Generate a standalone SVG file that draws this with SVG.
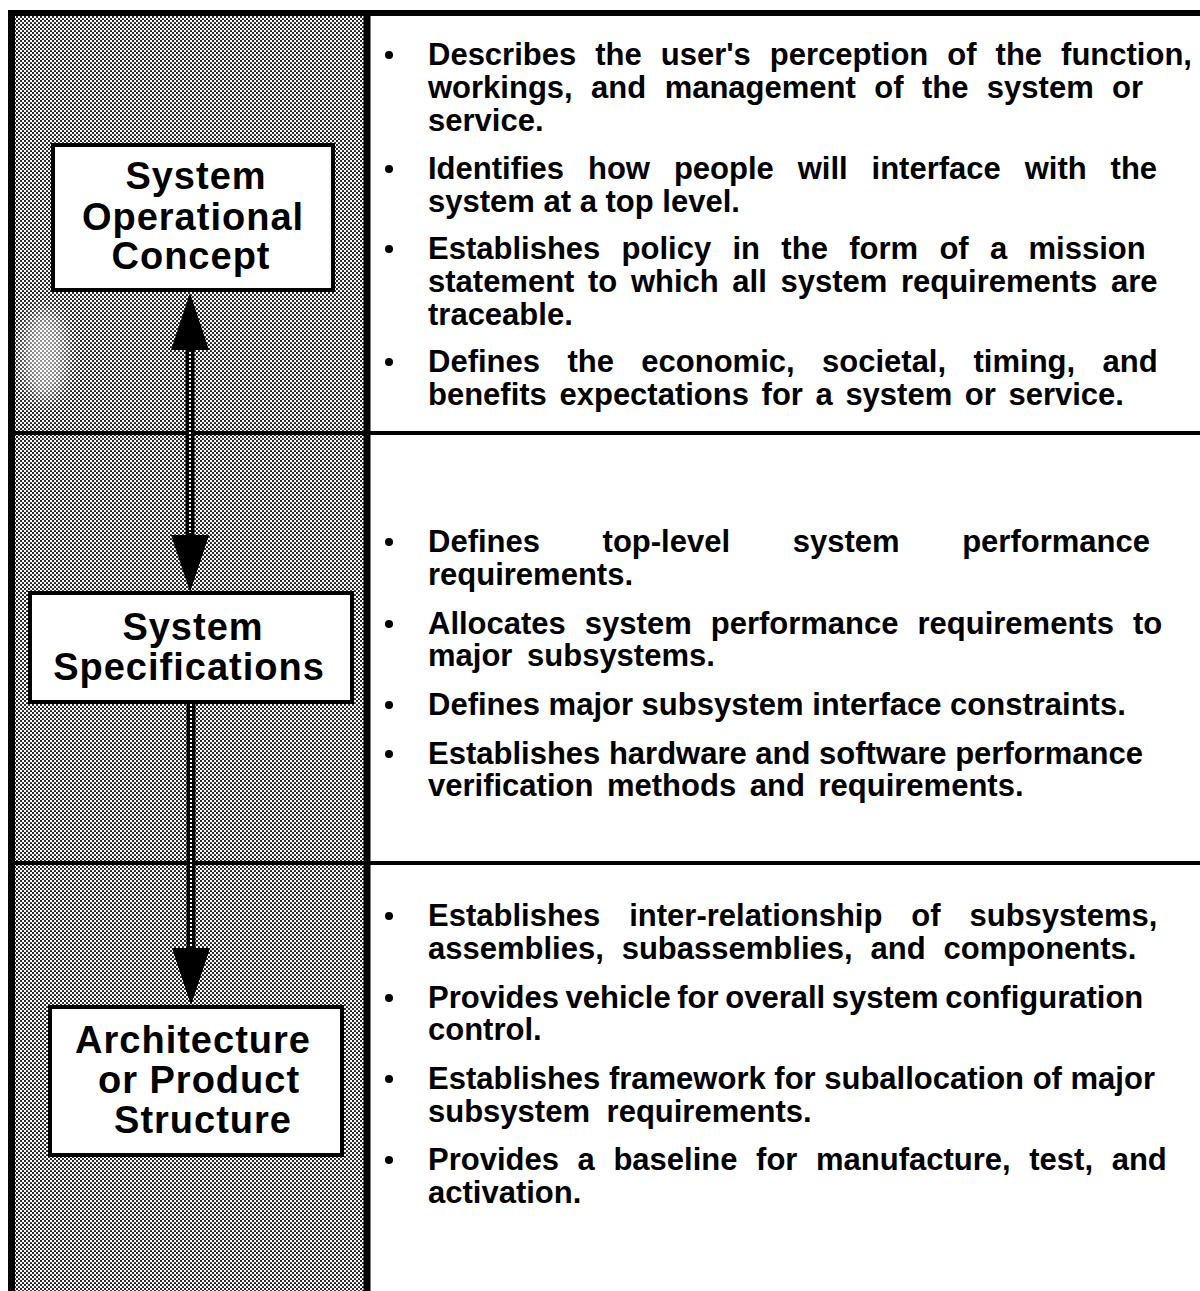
<svg xmlns="http://www.w3.org/2000/svg" width="1200" height="1291" viewBox="0 0 1200 1291">
  <defs>
    <!-- halftone screen used for the left column -->
    <pattern id="screen" width="4" height="4" patternUnits="userSpaceOnUse">
      <rect width="4" height="4" fill="#ffffff"/>
      <circle cx="1" cy="1" r="1.1" fill="#111"/>
      <circle cx="3" cy="3" r="1.1" fill="#111"/>
    </pattern>
    <filter id="soft" x="-50%" y="-50%" width="200%" height="200%">
      <feGaussianBlur stdDeviation="8"/>
    </filter>
    <marker id="head" viewBox="0 0 57 38" markerWidth="57" markerHeight="38" refX="0" refY="19" orient="auto-start-reverse" markerUnits="userSpaceOnUse">
      <path d="M0,0 L57,19 L0,38 Z" fill="#000"/>
    </marker>
    <style>
      .rule { stroke: #000; fill: none; }
      .box { fill: #fff; stroke: #000; stroke-width: 4; }
      .label { font-family: "Liberation Sans", Arial, Helvetica, sans-serif; font-weight: bold; font-size: 38px; letter-spacing: 1px; fill: #000; text-anchor: middle; }
      .item { font-family: "Liberation Sans", Arial, Helvetica, sans-serif; font-weight: bold; font-size: 31px; fill: #000; }
      .dot { fill: #000; }
      .shaft { stroke: #000; stroke-width: 9; fill: none; }
      .core { stroke: #fff; stroke-width: 2; stroke-dasharray: 2 2; fill: none; }
    </style>
  </defs>

  <rect width="1200" height="1291" fill="#fff"/>

  <!-- shaded left column -->
  <rect x="15" y="16" width="349" height="1275" fill="url(#screen)"/>
  <ellipse cx="45" cy="355" rx="22" ry="45" fill="#fff" opacity="0.5" filter="url(#soft)"/>

  <!-- frame and row rules -->
  <g id="frame">
    <line class="rule" x1="11.5" y1="10" x2="11.5" y2="1291" stroke-width="7"/>
    <line class="rule" x1="8" y1="13" x2="1200" y2="13" stroke-width="6"/>
    <line class="rule" x1="367" y1="10" x2="367" y2="1291" stroke-width="7"/>
    <line class="rule" x1="8" y1="433" x2="1200" y2="433" stroke-width="4"/>
    <line class="rule" x1="8" y1="863" x2="1200" y2="863" stroke-width="4"/>
  </g>

  <!-- connectors between the three stages -->
  <g id="connectors">
    <path class="shaft" d="M190,350 L190,535" marker-start="url(#head)" marker-end="url(#head)"/>
    <path class="core" d="M190,352 L190,533"/>
    <path class="shaft" d="M191,702 L191,948" marker-end="url(#head)"/>
    <path class="core" d="M191,704 L191,946"/>
  </g>

  <!-- stage boxes -->
  <g id="node-operational-concept">
    <rect class="box" x="53" y="145" width="280" height="145"/>
    <text class="label" x="196" y="189">System</text>
    <text class="label" x="193" y="230">Operational</text>
    <text class="label" x="191" y="269">Concept</text>
  </g>

  <g id="node-specifications">
    <rect class="box" x="30" y="593" width="322" height="109"/>
    <text class="label" x="193" y="640">System</text>
    <text class="label" x="189" y="680">Specifications</text>
  </g>

  <g id="node-architecture">
    <rect class="box" x="50" y="1007" width="292" height="148"/>
    <text class="label" x="193" y="1053">Architecture</text>
    <text class="label" x="199" y="1093">or Product</text>
    <text class="label" x="203" y="1133">Structure</text>
  </g>

  <!-- descriptions: operational concept -->
  <g id="desc-operational-concept">
    <circle class="dot" cx="389" cy="55" r="4"/>
    <text class="item" x="428" y="65" word-spacing="10.4">Describes the user's perception of the function,</text>
    <text class="item" x="428" y="98" word-spacing="9.8">workings, and management of the system or</text>
    <text class="item" x="428" y="131">service.</text>
    <circle class="dot" cx="389" cy="169" r="4"/>
    <text class="item" x="428" y="179" word-spacing="15.3">Identifies how people will interface with the</text>
    <text class="item" x="428" y="212">system at a top level.</text>
    <circle class="dot" cx="389" cy="249" r="4"/>
    <text class="item" x="428" y="259" word-spacing="12.7">Establishes policy in the form of a mission</text>
    <text class="item" x="428" y="292" word-spacing="5">statement to which all system requirements are</text>
    <text class="item" x="428" y="325">traceable.</text>
    <circle class="dot" cx="389" cy="362" r="4"/>
    <text class="item" x="428" y="372" word-spacing="18.8">Defines the economic, societal, timing, and</text>
    <text class="item" x="428" y="405" word-spacing="4">benefits expectations for a system or service.</text>
  </g>

  <!-- descriptions: specifications -->
  <g id="desc-specifications">
    <circle class="dot" cx="389" cy="542" r="4"/>
    <text class="item" x="428" y="552" word-spacing="54">Defines top-level system performance</text>
    <text class="item" x="428" y="585">requirements.</text>
    <circle class="dot" cx="389" cy="624" r="4"/>
    <text class="item" x="428" y="634" word-spacing="10.4">Allocates system performance requirements to</text>
    <text class="item" x="428" y="666" word-spacing="6">major subsystems.</text>
    <circle class="dot" cx="389" cy="705" r="4"/>
    <text class="item" x="428" y="715">Defines major subsystem interface constraints.</text>
    <circle class="dot" cx="389" cy="754" r="4"/>
    <text class="item" x="428" y="764">Establishes hardware and software performance</text>
    <text class="item" x="428" y="796" word-spacing="5">verification methods and requirements.</text>
  </g>

  <!-- descriptions: architecture -->
  <g id="desc-architecture">
    <circle class="dot" cx="389" cy="916" r="4"/>
    <text class="item" x="428" y="926" word-spacing="20.3">Establishes inter-relationship of subsystems,</text>
    <text class="item" x="428" y="959" word-spacing="9.3">assemblies, subassemblies, and components.</text>
    <circle class="dot" cx="389" cy="998" r="4"/>
    <text class="item" x="428" y="1008" word-spacing="-2">Provides vehicle for overall system configuration</text>
    <text class="item" x="428" y="1040">control.</text>
    <circle class="dot" cx="389" cy="1079" r="4"/>
    <text class="item" x="428" y="1089">Establishes framework for suballocation of major</text>
    <text class="item" x="428" y="1122" word-spacing="8">subsystem requirements.</text>
    <circle class="dot" cx="389" cy="1160" r="4"/>
    <text class="item" x="428" y="1170" word-spacing="10">Provides a baseline for manufacture, test, and</text>
    <text class="item" x="428" y="1203">activation.</text>
  </g>
</svg>
